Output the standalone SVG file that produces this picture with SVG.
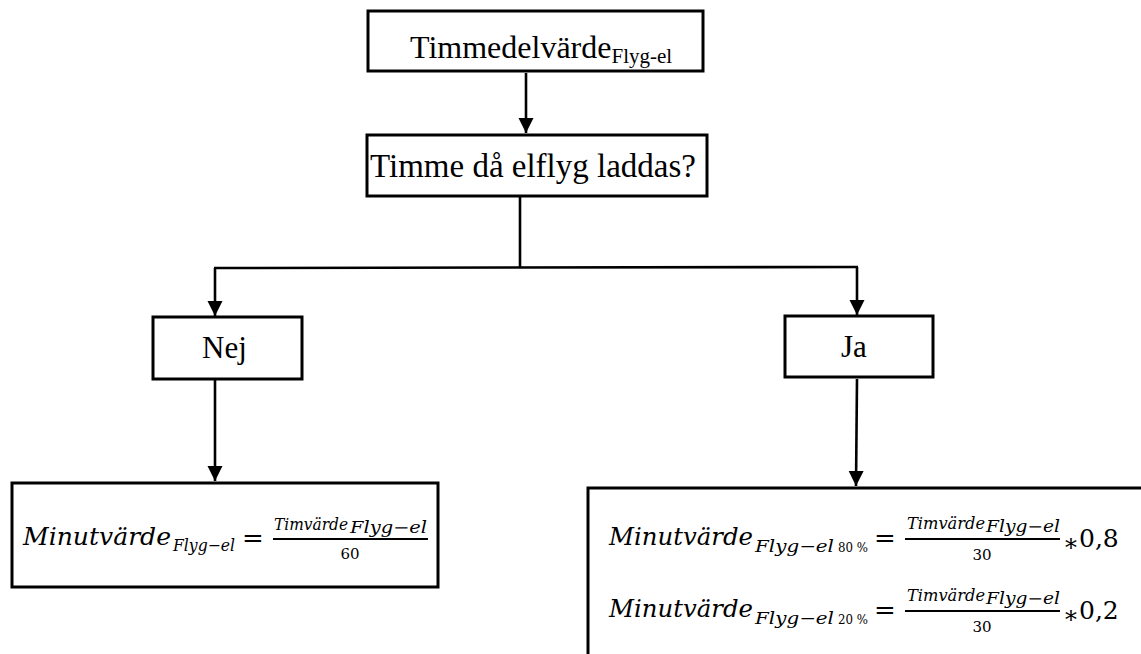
<svg xmlns="http://www.w3.org/2000/svg" width="1141" height="654" viewBox="0 0 1141 654">
<defs>
<marker id="ah" markerUnits="userSpaceOnUse" markerWidth="16" markerHeight="16" viewBox="0 0 16 16" refX="15" refY="8" orient="auto">
<path d="M0,0.5 L15,8 L0,15.5 z" fill="#000"/>
</marker>
<style>
.box{fill:#fff;stroke:#000;stroke-width:3}
.con{fill:none;stroke:#000;stroke-width:2.6}
.arr{fill:none;stroke:#000;stroke-width:2.6;marker-end:url(#ah)}
.tn{font-family:"Liberation Serif","Times New Roman",serif;fill:#000}
.mi{font-family:"DejaVu Serif","Liberation Serif",serif;font-style:italic;fill:#000}
.mu{font-family:"DejaVu Serif","Liberation Serif",serif;fill:#000}
.bar{stroke:#000;stroke-width:1.8}
</style>
</defs>
<rect width="1141" height="654" fill="#fff"/>
<g id="connectors">
<line class="arr" x1="526" y1="73" x2="526" y2="133"/>
<polyline class="con" points="520,197 520,268"/>
<polyline class="con" points="214,268 858,267"/>
<line class="arr" x1="215" y1="268" x2="215" y2="316"/>
<line class="arr" x1="857" y1="267" x2="857" y2="315"/>
<line class="arr" x1="215" y1="380" x2="215" y2="481"/>
<line class="arr" x1="857" y1="379" x2="856" y2="486"/>
</g>
<g id="n-timmedel">
<rect class="box" x="368" y="11" width="335" height="60"/>
<text class="tn" x="410" y="58" font-size="32">Timmedelvärde<tspan font-size="21" dy="5">Flyg-el</tspan></text>
</g>
<g id="n-fraga">
<rect class="box" x="367" y="135" width="340" height="61"/>
<text class="tn" x="370" y="177" font-size="33">Timme då elflyg laddas?</text>
</g>
<g id="n-nej">
<rect class="box" x="153" y="317" width="149" height="62"/>
<text class="tn" x="202" y="358" font-size="31">Nej</text>
</g>
<g id="n-ja">
<rect class="box" x="785" y="316" width="148" height="61"/>
<text class="tn" x="841" y="357" font-size="31">Ja</text>
</g>
<g id="n-formel-nej">
<rect class="box" x="12" y="483" width="426" height="104"/>
<text class="mi" x="23" y="545" font-size="24" textLength="148" lengthAdjust="spacingAndGlyphs">Minutvärde</text>
<text class="mi" x="173" y="551" font-size="17" textLength="62" lengthAdjust="spacingAndGlyphs">Flyg−el</text>
<text class="mu" x="253" y="547" font-size="26" text-anchor="middle">=</text>
<text class="mi" x="274" y="530" font-size="16" textLength="74" lengthAdjust="spacingAndGlyphs">Timvärde</text>
<text class="mi" x="350" y="533" font-size="16" textLength="77" lengthAdjust="spacingAndGlyphs">Flyg−el</text>
<line class="bar" x1="273" y1="539" x2="428" y2="539"/>
<text class="mu" x="350" y="559" font-size="15" text-anchor="middle">60</text>
</g>
<g id="n-formel-ja">
<rect class="box" x="588" y="488" width="600" height="200"/>
<text class="mi" x="609" y="545" font-size="24" textLength="144" lengthAdjust="spacingAndGlyphs">Minutvärde</text>
<text class="mi" x="755" y="552" font-size="17" textLength="79" lengthAdjust="spacingAndGlyphs">Flyg−el</text>
<text class="mu" x="838" y="552" font-size="13" textLength="30" lengthAdjust="spacingAndGlyphs">80 %</text>
<text class="mu" x="885" y="547" font-size="26" text-anchor="middle">=</text>
<text class="mi" x="907" y="529" font-size="16" textLength="78" lengthAdjust="spacingAndGlyphs">Timvärde</text>
<text class="mi" x="986" y="532" font-size="16" textLength="74" lengthAdjust="spacingAndGlyphs">Flyg−el</text>
<line class="bar" x1="905" y1="539" x2="1060" y2="539"/>
<text class="mu" x="982" y="560" font-size="15" text-anchor="middle">30</text>
<text class="mu" x="1071" y="551" font-size="24" text-anchor="middle">∗</text>
<text class="mu" x="1079" y="547" font-size="25">0,8</text>
<text class="mi" x="609" y="617" font-size="24" textLength="144" lengthAdjust="spacingAndGlyphs">Minutvärde</text>
<text class="mi" x="755" y="624" font-size="17" textLength="79" lengthAdjust="spacingAndGlyphs">Flyg−el</text>
<text class="mu" x="838" y="624" font-size="13" textLength="30" lengthAdjust="spacingAndGlyphs">20 %</text>
<text class="mu" x="885" y="619" font-size="26" text-anchor="middle">=</text>
<text class="mi" x="907" y="601" font-size="16" textLength="78" lengthAdjust="spacingAndGlyphs">Timvärde</text>
<text class="mi" x="986" y="604" font-size="16" textLength="74" lengthAdjust="spacingAndGlyphs">Flyg−el</text>
<line class="bar" x1="905" y1="611" x2="1060" y2="611"/>
<text class="mu" x="982" y="632" font-size="15" text-anchor="middle">30</text>
<text class="mu" x="1071" y="623" font-size="24" text-anchor="middle">∗</text>
<text class="mu" x="1079" y="619" font-size="25">0,2</text>
</g>
</svg>
